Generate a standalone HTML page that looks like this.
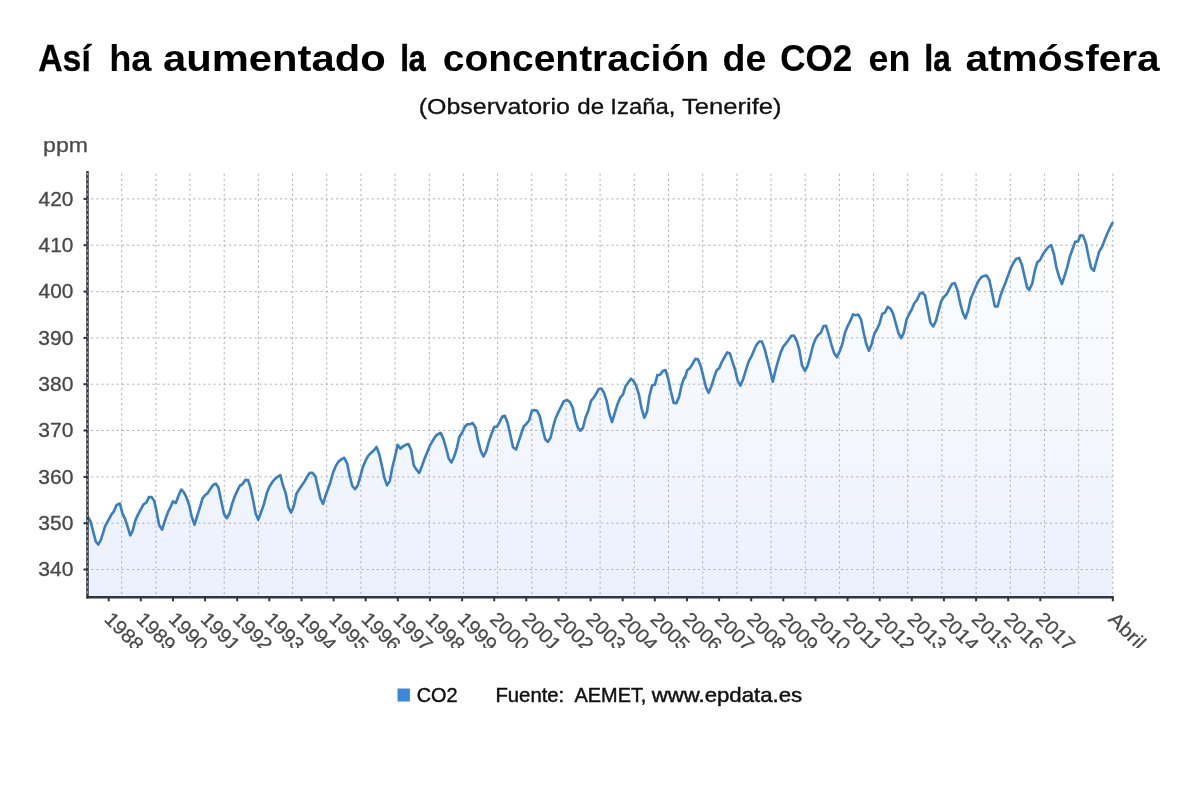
<!DOCTYPE html>
<html lang="es">
<head>
<meta charset="utf-8">
<title>CO2</title>
<style>
html,body{margin:0;padding:0;background:#fff;}
body{width:1200px;height:808px;overflow:hidden;position:relative;font-family:"Liberation Sans",sans-serif;}
svg{position:absolute;left:0;top:0;will-change:transform;opacity:0.999;}
text{font-family:"Liberation Sans",sans-serif;}
</style>
</head>
<body>
<svg width="1200" height="808" viewBox="0 0 1200 808">
<defs>
<linearGradient id="g" gradientUnits="userSpaceOnUse" x1="0" y1="200" x2="0" y2="597.3">
<stop offset="0" stop-color="#ffffff"/>
<stop offset="1" stop-color="#ebf0fc"/>
</linearGradient>
<clipPath id="xc"><rect x="0" y="598" width="1200" height="50"/></clipPath>
</defs>
<rect width="1200" height="808" fill="#fff"/>
<text x="38.15" y="70.7" font-size="36.5" font-weight="bold" fill="#000" stroke="#000" stroke-width="0.29" textLength="52.66" lengthAdjust="spacingAndGlyphs">Así</text>
<text x="109.16" y="70.7" font-size="36.5" font-weight="bold" fill="#000" textLength="42.34" lengthAdjust="spacingAndGlyphs">ha</text>
<text x="163.05" y="70.7" font-size="36.5" font-weight="bold" fill="#000" textLength="222.59" lengthAdjust="spacingAndGlyphs">aumentado</text>
<text x="400.38" y="70.7" font-size="36.5" font-weight="bold" fill="#000" stroke="#000" stroke-width="0.68" textLength="25.24" lengthAdjust="spacingAndGlyphs">la</text>
<text x="442.74" y="70.7" font-size="36.5" font-weight="bold" fill="#000" textLength="266.30" lengthAdjust="spacingAndGlyphs">concentración</text>
<text x="722.50" y="70.7" font-size="36.5" font-weight="bold" fill="#000" textLength="43.80" lengthAdjust="spacingAndGlyphs">de</text>
<text x="780.30" y="70.7" font-size="36.5" font-weight="bold" fill="#000" stroke="#000" stroke-width="0.16" textLength="72.06" lengthAdjust="spacingAndGlyphs">CO2</text>
<text x="868.56" y="70.7" font-size="36.5" font-weight="bold" fill="#000" textLength="41.97" lengthAdjust="spacingAndGlyphs">en</text>
<text x="924.52" y="70.7" font-size="36.5" font-weight="bold" fill="#000" stroke="#000" stroke-width="0.58" textLength="26.00" lengthAdjust="spacingAndGlyphs">la</text>
<text x="965.48" y="70.7" font-size="36.5" font-weight="bold" fill="#000" textLength="194.21" lengthAdjust="spacingAndGlyphs">atmósfera</text>
<text x="418.74" y="113.6" font-size="21.7" fill="#111" stroke="#111" stroke-width="0.30" textLength="151.06" lengthAdjust="spacingAndGlyphs">(Observatorio</text>
<text x="577.28" y="113.6" font-size="21.7" fill="#111" stroke="#111" stroke-width="0.30" textLength="26.80" lengthAdjust="spacingAndGlyphs">de</text>
<text x="610.29" y="113.6" font-size="21.7" fill="#111" stroke="#111" stroke-width="0.30" textLength="65.15" lengthAdjust="spacingAndGlyphs">Izaña,</text>
<text x="681.92" y="113.6" font-size="21.7" fill="#111" stroke="#111" stroke-width="0.30" textLength="99.63" lengthAdjust="spacingAndGlyphs">Tenerife)</text>
<text x="43.10" y="151.8" font-size="19.6" fill="#4a4a4a" stroke="#4a4a4a" stroke-width="0.25" textLength="44.91" lengthAdjust="spacingAndGlyphs">ppm</text>
<polygon points="87.5,597.3 87.5,516.6 90.4,520.9 93.1,531.2 95.8,541.5 98.2,544.5 100.7,540.4 103.4,531.8 105.0,526.3 108.8,519.3 111.5,514.4 113.7,511.7 116.6,504.9 119.9,503.6 122.4,513.3 125.1,518.8 127.7,527.2 130.3,535.3 132.7,530.7 135.4,520.4 138.1,514.4 140.8,509.4 143.5,504.4 146.5,502.5 148.9,497.1 151.6,497.1 154.3,500.9 156.5,511.2 159.2,525.2 162.1,529.6 165.2,519.8 167.9,512.2 170.6,506.8 173.0,501.4 175.8,503.0 178.4,496.0 181.2,489.5 183.8,492.2 186.8,498.2 189.2,505.2 191.7,516.6 194.6,524.7 197.7,514.4 200.4,505.8 202.5,498.4 205.0,495.2 207.7,493.1 210.4,488.8 213.1,485.0 215.8,483.6 218.5,487.7 221.2,500.7 224.0,513.7 226.7,518.2 229.4,513.7 232.1,503.9 234.8,496.3 237.5,490.4 239.9,485.5 242.4,484.2 245.3,479.9 248.1,480.1 250.5,487.7 253.2,500.7 255.7,513.7 258.3,519.6 261.3,511.5 264.0,503.9 266.8,493.1 269.5,486.6 272.2,482.2 274.9,479.0 277.6,476.8 280.3,475.2 283.0,485.5 285.7,493.1 288.4,507.2 291.1,512.6 293.8,506.1 296.5,493.6 299.2,489.3 302.0,485.0 304.7,481.2 307.4,476.3 309.9,472.8 312.5,472.8 315.3,476.3 317.7,486.6 320.4,498.5 323.1,503.9 325.0,497.3 327.7,489.8 330.4,482.2 333.1,472.4 335.8,465.9 338.5,461.6 341.5,459.2 344.3,457.8 347.2,463.8 349.7,475.7 352.3,486.0 355.0,489.2 357.7,485.4 360.2,476.8 362.9,467.0 365.6,460.5 368.3,455.6 371.0,452.9 373.8,450.5 376.5,447.0 379.2,454.0 381.9,465.9 384.4,477.8 387.0,485.4 389.8,481.1 392.4,467.0 394.9,457.2 397.6,444.8 400.3,448.6 403.0,446.4 405.7,444.8 408.4,444.0 411.1,449.7 413.8,465.4 416.5,469.7 419.2,473.0 422.0,465.9 424.7,458.3 427.4,451.8 430.1,445.3 432.8,440.5 435.5,436.1 438.2,434.0 440.7,432.9 443.6,439.4 446.6,450.0 448.8,458.7 451.5,462.5 454.2,456.5 456.9,447.8 459.3,437.0 462.1,432.7 464.7,426.7 467.4,424.2 470.1,424.2 472.8,423.1 475.6,427.8 478.0,440.2 480.8,451.1 483.5,456.5 486.2,451.1 488.9,441.3 491.6,433.8 494.3,426.7 497.0,426.7 499.7,421.8 502.2,416.6 504.9,415.9 507.6,422.9 510.3,434.8 513.0,447.3 516.0,449.5 518.7,441.3 521.2,433.8 523.8,426.2 526.5,423.8 529.2,420.2 531.9,410.7 534.6,410.1 537.1,410.7 539.8,416.4 542.5,428.3 545.2,439.2 547.9,441.9 550.6,437.5 553.3,426.2 555.7,418.0 558.4,412.1 561.1,406.7 563.8,401.2 567.2,400.1 569.9,402.0 572.6,407.4 575.3,419.3 577.8,427.5 580.2,430.7 582.9,428.0 585.6,417.2 588.3,410.7 591.0,400.9 593.7,397.7 596.4,393.3 598.8,389.0 601.3,388.5 604.0,392.8 606.7,400.9 609.4,413.9 612.1,422.0 614.8,412.8 617.5,404.2 620.2,397.7 623.0,394.4 625.5,386.3 628.2,382.5 630.9,378.7 633.5,380.9 636.2,385.8 638.9,394.4 641.6,408.5 644.3,417.7 647.0,411.8 649.5,395.5 652.2,385.2 654.9,384.7 657.4,375.1 660.1,374.7 662.8,371.1 665.5,370.0 668.2,378.7 671.0,391.7 673.7,402.9 676.4,403.1 679.0,397.1 681.7,384.7 684.2,377.6 685.0,377.8 687.2,370.2 689.9,368.1 692.6,363.8 695.3,358.9 698.0,359.4 700.7,365.9 703.4,376.8 706.1,387.6 708.6,392.8 711.3,386.5 714.0,377.8 716.6,370.2 719.3,368.1 722.0,361.6 724.8,356.7 727.2,352.4 730.0,353.5 732.7,362.7 735.0,369.2 737.8,381.1 740.5,385.6 743.2,378.9 745.9,370.2 748.6,361.6 751.3,356.7 754.0,350.2 756.5,344.8 759.2,341.5 761.9,341.5 764.6,348.6 767.3,359.4 770.0,370.2 772.8,381.6 775.5,370.2 778.2,360.5 780.7,352.4 783.4,346.4 786.1,343.2 788.8,339.4 791.2,335.8 793.9,335.6 796.6,340.5 799.3,349.7 802.0,365.4 805.0,370.8 807.7,365.3 810.2,356.7 812.9,345.8 815.6,338.8 818.2,335.0 820.9,332.8 823.4,326.3 826.1,325.8 828.8,335.0 831.5,344.8 834.2,353.4 837.0,357.2 839.7,351.2 842.4,343.7 845.1,332.3 847.8,325.8 850.3,320.9 853.0,314.4 855.7,315.2 858.3,314.6 861.0,319.3 863.7,332.8 866.2,343.7 868.9,350.7 871.6,344.2 874.3,333.9 877.0,329.0 879.5,323.6 882.2,313.9 885.0,312.5 887.7,306.8 890.4,308.5 893.0,313.3 895.7,323.1 898.4,332.8 901.1,338.2 903.8,332.8 906.5,319.8 909.0,314.4 911.7,309.5 914.4,303.0 917.1,299.8 919.8,293.8 922.3,292.5 925.0,295.3 927.7,308.7 930.4,322.8 933.3,326.5 936.0,320.6 938.8,309.8 941.2,301.1 944.0,296.8 946.7,294.0 949.4,288.6 952.1,283.8 954.8,283.2 957.5,290.2 960.2,303.2 962.9,313.0 965.4,318.4 968.1,310.8 970.7,298.9 973.4,292.4 976.1,285.9 978.8,280.5 981.3,277.2 984.0,275.9 986.8,275.6 989.5,280.5 992.2,293.5 994.9,306.5 997.6,306.5 1000.1,296.8 1002.8,289.2 1005.5,282.7 1008.2,275.1 1010.9,268.0 1013.6,262.6 1016.3,258.8 1019.2,257.9 1022.0,265.1 1024.3,275.3 1027.1,287.4 1029.1,290.0 1032.2,283.7 1035.0,269.8 1037.3,262.3 1040.1,260.0 1042.8,254.4 1045.6,250.3 1048.4,247.0 1051.2,245.2 1054.0,254.4 1056.5,267.9 1059.1,276.7 1061.9,284.1 1064.7,275.3 1067.2,267.4 1069.8,256.8 1072.5,249.3 1075.1,241.9 1077.9,241.4 1080.4,235.4 1083.2,235.9 1086.0,243.8 1088.6,256.8 1091.1,267.9 1093.9,270.7 1096.7,260.5 1099.3,251.2 1102.0,247.0 1104.6,240.1 1107.3,233.6 1109.8,228.0 1112.5,222.9 1112.5,597.3" fill="url(#g)"/>
<g stroke="#b1b1b6" stroke-width="1" stroke-dasharray="2.2,2.9" fill="none">
<line x1="121.7" y1="173.6" x2="121.7" y2="597.3"/>
<line x1="155.9" y1="173.6" x2="155.9" y2="597.3"/>
<line x1="190.0" y1="173.6" x2="190.0" y2="597.3"/>
<line x1="224.2" y1="173.6" x2="224.2" y2="597.3"/>
<line x1="258.4" y1="173.6" x2="258.4" y2="597.3"/>
<line x1="292.6" y1="173.6" x2="292.6" y2="597.3"/>
<line x1="326.7" y1="173.6" x2="326.7" y2="597.3"/>
<line x1="360.9" y1="173.6" x2="360.9" y2="597.3"/>
<line x1="395.1" y1="173.6" x2="395.1" y2="597.3"/>
<line x1="429.3" y1="173.6" x2="429.3" y2="597.3"/>
<line x1="463.4" y1="173.6" x2="463.4" y2="597.3"/>
<line x1="497.6" y1="173.6" x2="497.6" y2="597.3"/>
<line x1="531.8" y1="173.6" x2="531.8" y2="597.3"/>
<line x1="566.0" y1="173.6" x2="566.0" y2="597.3"/>
<line x1="600.1" y1="173.6" x2="600.1" y2="597.3"/>
<line x1="634.3" y1="173.6" x2="634.3" y2="597.3"/>
<line x1="668.5" y1="173.6" x2="668.5" y2="597.3"/>
<line x1="702.7" y1="173.6" x2="702.7" y2="597.3"/>
<line x1="736.9" y1="173.6" x2="736.9" y2="597.3"/>
<line x1="771.0" y1="173.6" x2="771.0" y2="597.3"/>
<line x1="805.2" y1="173.6" x2="805.2" y2="597.3"/>
<line x1="839.4" y1="173.6" x2="839.4" y2="597.3"/>
<line x1="873.6" y1="173.6" x2="873.6" y2="597.3"/>
<line x1="907.7" y1="173.6" x2="907.7" y2="597.3"/>
<line x1="941.9" y1="173.6" x2="941.9" y2="597.3"/>
<line x1="976.1" y1="173.6" x2="976.1" y2="597.3"/>
<line x1="1010.3" y1="173.6" x2="1010.3" y2="597.3"/>
<line x1="1044.4" y1="173.6" x2="1044.4" y2="597.3"/>
<line x1="1078.6" y1="173.6" x2="1078.6" y2="597.3"/>
<line x1="1112.8" y1="173.6" x2="1112.8" y2="597.3"/>
<line x1="87.5" y1="569.5" x2="1112.8" y2="569.5" stroke-dashoffset="1.4"/>
<line x1="87.5" y1="523.2" x2="1112.8" y2="523.2" stroke-dashoffset="1.4"/>
<line x1="87.5" y1="476.9" x2="1112.8" y2="476.9" stroke-dashoffset="1.4"/>
<line x1="87.5" y1="430.5" x2="1112.8" y2="430.5" stroke-dashoffset="1.4"/>
<line x1="87.5" y1="384.2" x2="1112.8" y2="384.2" stroke-dashoffset="1.4"/>
<line x1="87.5" y1="337.9" x2="1112.8" y2="337.9" stroke-dashoffset="1.4"/>
<line x1="87.5" y1="291.6" x2="1112.8" y2="291.6" stroke-dashoffset="1.4"/>
<line x1="87.5" y1="245.2" x2="1112.8" y2="245.2" stroke-dashoffset="1.4"/>
<line x1="87.5" y1="198.9" x2="1112.8" y2="198.9" stroke-dashoffset="1.4"/>
</g>
<polyline points="87.5,516.6 90.4,520.9 93.1,531.2 95.8,541.5 98.2,544.5 100.7,540.4 103.4,531.8 105.0,526.3 108.8,519.3 111.5,514.4 113.7,511.7 116.6,504.9 119.9,503.6 122.4,513.3 125.1,518.8 127.7,527.2 130.3,535.3 132.7,530.7 135.4,520.4 138.1,514.4 140.8,509.4 143.5,504.4 146.5,502.5 148.9,497.1 151.6,497.1 154.3,500.9 156.5,511.2 159.2,525.2 162.1,529.6 165.2,519.8 167.9,512.2 170.6,506.8 173.0,501.4 175.8,503.0 178.4,496.0 181.2,489.5 183.8,492.2 186.8,498.2 189.2,505.2 191.7,516.6 194.6,524.7 197.7,514.4 200.4,505.8 202.5,498.4 205.0,495.2 207.7,493.1 210.4,488.8 213.1,485.0 215.8,483.6 218.5,487.7 221.2,500.7 224.0,513.7 226.7,518.2 229.4,513.7 232.1,503.9 234.8,496.3 237.5,490.4 239.9,485.5 242.4,484.2 245.3,479.9 248.1,480.1 250.5,487.7 253.2,500.7 255.7,513.7 258.3,519.6 261.3,511.5 264.0,503.9 266.8,493.1 269.5,486.6 272.2,482.2 274.9,479.0 277.6,476.8 280.3,475.2 283.0,485.5 285.7,493.1 288.4,507.2 291.1,512.6 293.8,506.1 296.5,493.6 299.2,489.3 302.0,485.0 304.7,481.2 307.4,476.3 309.9,472.8 312.5,472.8 315.3,476.3 317.7,486.6 320.4,498.5 323.1,503.9 325.0,497.3 327.7,489.8 330.4,482.2 333.1,472.4 335.8,465.9 338.5,461.6 341.5,459.2 344.3,457.8 347.2,463.8 349.7,475.7 352.3,486.0 355.0,489.2 357.7,485.4 360.2,476.8 362.9,467.0 365.6,460.5 368.3,455.6 371.0,452.9 373.8,450.5 376.5,447.0 379.2,454.0 381.9,465.9 384.4,477.8 387.0,485.4 389.8,481.1 392.4,467.0 394.9,457.2 397.6,444.8 400.3,448.6 403.0,446.4 405.7,444.8 408.4,444.0 411.1,449.7 413.8,465.4 416.5,469.7 419.2,473.0 422.0,465.9 424.7,458.3 427.4,451.8 430.1,445.3 432.8,440.5 435.5,436.1 438.2,434.0 440.7,432.9 443.6,439.4 446.6,450.0 448.8,458.7 451.5,462.5 454.2,456.5 456.9,447.8 459.3,437.0 462.1,432.7 464.7,426.7 467.4,424.2 470.1,424.2 472.8,423.1 475.6,427.8 478.0,440.2 480.8,451.1 483.5,456.5 486.2,451.1 488.9,441.3 491.6,433.8 494.3,426.7 497.0,426.7 499.7,421.8 502.2,416.6 504.9,415.9 507.6,422.9 510.3,434.8 513.0,447.3 516.0,449.5 518.7,441.3 521.2,433.8 523.8,426.2 526.5,423.8 529.2,420.2 531.9,410.7 534.6,410.1 537.1,410.7 539.8,416.4 542.5,428.3 545.2,439.2 547.9,441.9 550.6,437.5 553.3,426.2 555.7,418.0 558.4,412.1 561.1,406.7 563.8,401.2 567.2,400.1 569.9,402.0 572.6,407.4 575.3,419.3 577.8,427.5 580.2,430.7 582.9,428.0 585.6,417.2 588.3,410.7 591.0,400.9 593.7,397.7 596.4,393.3 598.8,389.0 601.3,388.5 604.0,392.8 606.7,400.9 609.4,413.9 612.1,422.0 614.8,412.8 617.5,404.2 620.2,397.7 623.0,394.4 625.5,386.3 628.2,382.5 630.9,378.7 633.5,380.9 636.2,385.8 638.9,394.4 641.6,408.5 644.3,417.7 647.0,411.8 649.5,395.5 652.2,385.2 654.9,384.7 657.4,375.1 660.1,374.7 662.8,371.1 665.5,370.0 668.2,378.7 671.0,391.7 673.7,402.9 676.4,403.1 679.0,397.1 681.7,384.7 684.2,377.6 685.0,377.8 687.2,370.2 689.9,368.1 692.6,363.8 695.3,358.9 698.0,359.4 700.7,365.9 703.4,376.8 706.1,387.6 708.6,392.8 711.3,386.5 714.0,377.8 716.6,370.2 719.3,368.1 722.0,361.6 724.8,356.7 727.2,352.4 730.0,353.5 732.7,362.7 735.0,369.2 737.8,381.1 740.5,385.6 743.2,378.9 745.9,370.2 748.6,361.6 751.3,356.7 754.0,350.2 756.5,344.8 759.2,341.5 761.9,341.5 764.6,348.6 767.3,359.4 770.0,370.2 772.8,381.6 775.5,370.2 778.2,360.5 780.7,352.4 783.4,346.4 786.1,343.2 788.8,339.4 791.2,335.8 793.9,335.6 796.6,340.5 799.3,349.7 802.0,365.4 805.0,370.8 807.7,365.3 810.2,356.7 812.9,345.8 815.6,338.8 818.2,335.0 820.9,332.8 823.4,326.3 826.1,325.8 828.8,335.0 831.5,344.8 834.2,353.4 837.0,357.2 839.7,351.2 842.4,343.7 845.1,332.3 847.8,325.8 850.3,320.9 853.0,314.4 855.7,315.2 858.3,314.6 861.0,319.3 863.7,332.8 866.2,343.7 868.9,350.7 871.6,344.2 874.3,333.9 877.0,329.0 879.5,323.6 882.2,313.9 885.0,312.5 887.7,306.8 890.4,308.5 893.0,313.3 895.7,323.1 898.4,332.8 901.1,338.2 903.8,332.8 906.5,319.8 909.0,314.4 911.7,309.5 914.4,303.0 917.1,299.8 919.8,293.8 922.3,292.5 925.0,295.3 927.7,308.7 930.4,322.8 933.3,326.5 936.0,320.6 938.8,309.8 941.2,301.1 944.0,296.8 946.7,294.0 949.4,288.6 952.1,283.8 954.8,283.2 957.5,290.2 960.2,303.2 962.9,313.0 965.4,318.4 968.1,310.8 970.7,298.9 973.4,292.4 976.1,285.9 978.8,280.5 981.3,277.2 984.0,275.9 986.8,275.6 989.5,280.5 992.2,293.5 994.9,306.5 997.6,306.5 1000.1,296.8 1002.8,289.2 1005.5,282.7 1008.2,275.1 1010.9,268.0 1013.6,262.6 1016.3,258.8 1019.2,257.9 1022.0,265.1 1024.3,275.3 1027.1,287.4 1029.1,290.0 1032.2,283.7 1035.0,269.8 1037.3,262.3 1040.1,260.0 1042.8,254.4 1045.6,250.3 1048.4,247.0 1051.2,245.2 1054.0,254.4 1056.5,267.9 1059.1,276.7 1061.9,284.1 1064.7,275.3 1067.2,267.4 1069.8,256.8 1072.5,249.3 1075.1,241.9 1077.9,241.4 1080.4,235.4 1083.2,235.9 1086.0,243.8 1088.6,256.8 1091.1,267.9 1093.9,270.7 1096.7,260.5 1099.3,251.2 1102.0,247.0 1104.6,240.1 1107.3,233.6 1109.8,228.0 1112.5,222.9" fill="none" stroke="#3a7fc2" stroke-width="2.65" stroke-linejoin="round" stroke-linecap="round"/>
<g stroke="#2f3540" stroke-width="2.5" fill="none">
<line x1="87.5" y1="171.0" x2="87.5" y2="598.4"/>
<line x1="86.4" y1="597.3" x2="1113.8999999999999" y2="597.3"/>
</g>
<line x1="87.5" y1="173.0" x2="87.5" y2="596.3" stroke="#a4a6b0" stroke-width="1" stroke-dasharray="2.2,2.9"/>
<g stroke="#2f3540" stroke-width="2" fill="none">
<line x1="83.5" y1="569.5" x2="87.5" y2="569.5"/>
<line x1="83.5" y1="523.2" x2="87.5" y2="523.2"/>
<line x1="83.5" y1="476.9" x2="87.5" y2="476.9"/>
<line x1="83.5" y1="430.5" x2="87.5" y2="430.5"/>
<line x1="83.5" y1="384.2" x2="87.5" y2="384.2"/>
<line x1="83.5" y1="337.9" x2="87.5" y2="337.9"/>
<line x1="83.5" y1="291.6" x2="87.5" y2="291.6"/>
<line x1="83.5" y1="245.2" x2="87.5" y2="245.2"/>
<line x1="83.5" y1="198.9" x2="87.5" y2="198.9"/>
<line x1="108.7" y1="597.3" x2="108.7" y2="601.3"/>
<line x1="140.8" y1="597.3" x2="140.8" y2="601.3"/>
<line x1="173.0" y1="597.3" x2="173.0" y2="601.3"/>
<line x1="205.1" y1="597.3" x2="205.1" y2="601.3"/>
<line x1="237.2" y1="597.3" x2="237.2" y2="601.3"/>
<line x1="269.3" y1="597.3" x2="269.3" y2="601.3"/>
<line x1="301.5" y1="597.3" x2="301.5" y2="601.3"/>
<line x1="333.6" y1="597.3" x2="333.6" y2="601.3"/>
<line x1="365.7" y1="597.3" x2="365.7" y2="601.3"/>
<line x1="397.8" y1="597.3" x2="397.8" y2="601.3"/>
<line x1="430.0" y1="597.3" x2="430.0" y2="601.3"/>
<line x1="462.1" y1="597.3" x2="462.1" y2="601.3"/>
<line x1="494.2" y1="597.3" x2="494.2" y2="601.3"/>
<line x1="526.3" y1="597.3" x2="526.3" y2="601.3"/>
<line x1="558.5" y1="597.3" x2="558.5" y2="601.3"/>
<line x1="590.6" y1="597.3" x2="590.6" y2="601.3"/>
<line x1="622.7" y1="597.3" x2="622.7" y2="601.3"/>
<line x1="654.8" y1="597.3" x2="654.8" y2="601.3"/>
<line x1="687.0" y1="597.3" x2="687.0" y2="601.3"/>
<line x1="719.1" y1="597.3" x2="719.1" y2="601.3"/>
<line x1="751.2" y1="597.3" x2="751.2" y2="601.3"/>
<line x1="783.3" y1="597.3" x2="783.3" y2="601.3"/>
<line x1="815.5" y1="597.3" x2="815.5" y2="601.3"/>
<line x1="847.6" y1="597.3" x2="847.6" y2="601.3"/>
<line x1="879.7" y1="597.3" x2="879.7" y2="601.3"/>
<line x1="911.8" y1="597.3" x2="911.8" y2="601.3"/>
<line x1="943.9" y1="597.3" x2="943.9" y2="601.3"/>
<line x1="976.1" y1="597.3" x2="976.1" y2="601.3"/>
<line x1="1008.2" y1="597.3" x2="1008.2" y2="601.3"/>
<line x1="1040.3" y1="597.3" x2="1040.3" y2="601.3"/>
<line x1="1112.8" y1="597.3" x2="1112.8" y2="601.3"/>
</g>
<g font-size="19" fill="#4a4a4a">
<text x="38.31" y="576.1" font-size="20" fill="#484849" stroke="#484849" stroke-width="0.30" textLength="35.10" lengthAdjust="spacingAndGlyphs">340</text>
<text x="38.31" y="529.8" font-size="20" fill="#484849" stroke="#484849" stroke-width="0.30" textLength="35.10" lengthAdjust="spacingAndGlyphs">350</text>
<text x="38.31" y="483.5" font-size="20" fill="#484849" stroke="#484849" stroke-width="0.30" textLength="35.10" lengthAdjust="spacingAndGlyphs">360</text>
<text x="38.31" y="437.1" font-size="20" fill="#484849" stroke="#484849" stroke-width="0.30" textLength="35.10" lengthAdjust="spacingAndGlyphs">370</text>
<text x="38.31" y="390.8" font-size="20" fill="#484849" stroke="#484849" stroke-width="0.30" textLength="35.10" lengthAdjust="spacingAndGlyphs">380</text>
<text x="38.31" y="344.5" font-size="20" fill="#484849" stroke="#484849" stroke-width="0.30" textLength="35.10" lengthAdjust="spacingAndGlyphs">390</text>
<text x="38.63" y="298.2" font-size="20" fill="#484849" stroke="#484849" stroke-width="0.30" textLength="34.77" lengthAdjust="spacingAndGlyphs">400</text>
<text x="38.63" y="251.8" font-size="20" fill="#484849" stroke="#484849" stroke-width="0.30" textLength="34.77" lengthAdjust="spacingAndGlyphs">410</text>
<text x="38.63" y="205.5" font-size="20" fill="#484849" stroke="#484849" stroke-width="0.30" textLength="34.77" lengthAdjust="spacingAndGlyphs">420</text>
</g>
<g font-size="19.6" fill="#4a4a4a" stroke="#4a4a4a" stroke-width="0.25" clip-path="url(#xc)">
<text transform="translate(103.2,620.2) rotate(45)" textLength="45.8" lengthAdjust="spacingAndGlyphs">1988</text>
<text transform="translate(135.3,620.2) rotate(45)" textLength="45.8" lengthAdjust="spacingAndGlyphs">1989</text>
<text transform="translate(167.5,620.2) rotate(45)" textLength="45.8" lengthAdjust="spacingAndGlyphs">1990</text>
<text transform="translate(199.6,620.2) rotate(45)" textLength="45.8" lengthAdjust="spacingAndGlyphs">1991</text>
<text transform="translate(231.7,620.2) rotate(45)" textLength="45.8" lengthAdjust="spacingAndGlyphs">1992</text>
<text transform="translate(263.8,620.2) rotate(45)" textLength="45.8" lengthAdjust="spacingAndGlyphs">1993</text>
<text transform="translate(296.0,620.2) rotate(45)" textLength="45.8" lengthAdjust="spacingAndGlyphs">1994</text>
<text transform="translate(328.1,620.2) rotate(45)" textLength="45.8" lengthAdjust="spacingAndGlyphs">1995</text>
<text transform="translate(360.2,620.2) rotate(45)" textLength="45.8" lengthAdjust="spacingAndGlyphs">1996</text>
<text transform="translate(392.3,620.2) rotate(45)" textLength="45.8" lengthAdjust="spacingAndGlyphs">1997</text>
<text transform="translate(424.5,620.2) rotate(45)" textLength="45.8" lengthAdjust="spacingAndGlyphs">1998</text>
<text transform="translate(456.6,620.2) rotate(45)" textLength="45.8" lengthAdjust="spacingAndGlyphs">1999</text>
<text transform="translate(488.7,620.2) rotate(45)" textLength="45.8" lengthAdjust="spacingAndGlyphs">2000</text>
<text transform="translate(520.8,620.2) rotate(45)" textLength="45.8" lengthAdjust="spacingAndGlyphs">2001</text>
<text transform="translate(553.0,620.2) rotate(45)" textLength="45.8" lengthAdjust="spacingAndGlyphs">2002</text>
<text transform="translate(585.1,620.2) rotate(45)" textLength="45.8" lengthAdjust="spacingAndGlyphs">2003</text>
<text transform="translate(617.2,620.2) rotate(45)" textLength="45.8" lengthAdjust="spacingAndGlyphs">2004</text>
<text transform="translate(649.3,620.2) rotate(45)" textLength="45.8" lengthAdjust="spacingAndGlyphs">2005</text>
<text transform="translate(681.5,620.2) rotate(45)" textLength="45.8" lengthAdjust="spacingAndGlyphs">2006</text>
<text transform="translate(713.6,620.2) rotate(45)" textLength="45.8" lengthAdjust="spacingAndGlyphs">2007</text>
<text transform="translate(745.7,620.2) rotate(45)" textLength="45.8" lengthAdjust="spacingAndGlyphs">2008</text>
<text transform="translate(777.8,620.2) rotate(45)" textLength="45.8" lengthAdjust="spacingAndGlyphs">2009</text>
<text transform="translate(810.0,620.2) rotate(45)" textLength="45.8" lengthAdjust="spacingAndGlyphs">2010</text>
<text transform="translate(842.1,620.2) rotate(45)" textLength="45.8" lengthAdjust="spacingAndGlyphs">2011</text>
<text transform="translate(874.2,620.2) rotate(45)" textLength="45.8" lengthAdjust="spacingAndGlyphs">2012</text>
<text transform="translate(906.3,620.2) rotate(45)" textLength="45.8" lengthAdjust="spacingAndGlyphs">2013</text>
<text transform="translate(938.4,620.2) rotate(45)" textLength="45.8" lengthAdjust="spacingAndGlyphs">2014</text>
<text transform="translate(970.6,620.2) rotate(45)" textLength="45.8" lengthAdjust="spacingAndGlyphs">2015</text>
<text transform="translate(1002.7,620.2) rotate(45)" textLength="45.8" lengthAdjust="spacingAndGlyphs">2016</text>
<text transform="translate(1034.8,620.2) rotate(45)" textLength="45.8" lengthAdjust="spacingAndGlyphs">2017</text>
<text transform="translate(1107.3,620.2) rotate(45)" textLength="43.2" lengthAdjust="spacingAndGlyphs">Abril</text>
</g>
<rect x="397.5" y="688.5" width="12.4" height="13" fill="#3988dc"/>
<text x="416.71" y="701.6" font-size="19.8" fill="#111" stroke="#111" stroke-width="0.45" textLength="40.81" lengthAdjust="spacingAndGlyphs">CO2</text>
<text x="495.43" y="701.6" font-size="19.8" fill="#111" stroke="#111" stroke-width="0.45" textLength="68.83" lengthAdjust="spacingAndGlyphs">Fuente:</text>
<text x="574.55" y="701.6" font-size="19.8" fill="#111" stroke="#111" stroke-width="0.45" textLength="71.83" lengthAdjust="spacingAndGlyphs">AEMET,</text>
<text x="651.66" y="701.6" font-size="19.8" fill="#111" stroke="#111" stroke-width="0.45" textLength="150.41" lengthAdjust="spacingAndGlyphs">www.epdata.es</text>
</svg>
</body>
</html>
